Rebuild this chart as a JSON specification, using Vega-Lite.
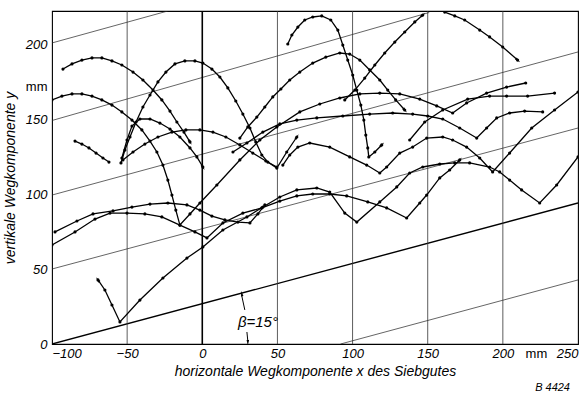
{
"$schema":"https://vega.github.io/schema/vega-lite/v6.json",
"width":526,"height":333,
"autosize":{"type":"none"},
"padding":{"left":52,"top":11,"right":4,"bottom":57},
"background":"white",
"title":{"text":"B 4424","orient":"bottom","anchor":"end","fontSize":11,"fontStyle":"italic","fontWeight":"normal","font":"Liberation Sans","offset":4,"dx":-8,"color":"black"},
"config":{"view":{"stroke":"black","strokeWidth":1.1},
"axis":{"labelFont":"Liberation Sans","labelFontStyle":"italic","labelFontSize":13,"labelColor":"black","titleFont":"Liberation Sans","titleFontStyle":"italic","titleFontWeight":"normal","titleFontSize":14,"titleColor":"black","ticks":false,"domain":false,"grid":false}},
"datasets":{
"slants":[
{"k":"s1","x":92,"y":0},{"k":"s1","x":250,"y":42.7},
{"k":"s2","x":-100,"y":50},{"k":"s2","x":250,"y":144},
{"k":"s3","x":-100,"y":99.3},{"k":"s3","x":250,"y":194.7},
{"k":"s4","x":-100,"y":149},{"k":"s4","x":151,"y":221},
{"k":"s5","x":-100,"y":200.7},{"k":"s5","x":-23,"y":222}],
"base":[{"x":-100,"y":0},{"x":250,"y":94}],
"grid":[{"x":-50},{"x":50},{"x":100},{"x":150},{"x":200}],
"grid0":[{"x":0}],
"dim":[{"k":"d1","x":26.3,"y":32},{"k":"d1","x":28.3,"y":22.7},{"k":"d2","x":29.7,"y":8},{"k":"d2","x":30.3,"y":2}],
"dimarrows":[{"x":26.3,"y":33.3,"heading":-10},{"x":30.3,"y":1.2,"heading":180}],
"label":[{"x":37,"y":15,"t":"β=15°"}],
"arrows":[
{"x":-8.2,"y":134.7,"heading":149},{"x":62.9,"y":138.0,"heading":34},{"x":119.4,"y":132.7,"heading":45},
{"x":134.7,"y":156.0,"heading":138},{"x":146.7,"y":219.3,"heading":49},{"x":209.8,"y":189.3,"heading":131},
{"x":-69.4,"y":42.7,"heading":-35},{"x":171.3,"y":122.7,"heading":40},{"x":0.4,"y":118.0,"heading":150}],
"traj":[
{"c":"A","i":1,"x":-92.7,"y":183.3},{"c":"A","i":2,"x":-86.7,"y":186.7},{"c":"A","i":3,"x":-80.1,"y":189.3},{"c":"A","i":4,"x":-73.4,"y":190.7},{"c":"A","i":5,"x":-66.8,"y":190.7},{"c":"A","i":6,"x":-60.1,"y":188.7},{"c":"A","i":7,"x":-53.5,"y":186.0},{"c":"A","i":8,"x":-46.1,"y":181.3},{"c":"A","i":9,"x":-39.5,"y":176.0},{"c":"A","i":10,"x":-32.8,"y":169.3},{"c":"A","i":11,"x":-26.9,"y":162.7},{"c":"A","i":12,"x":-21.5,"y":155.3},{"c":"A","i":13,"x":-16.9,"y":148.0},{"c":"A","i":14,"x":-12.2,"y":141.3},{"c":"A","i":15,"x":-8.2,"y":134.7},
{"c":"B","i":1,"x":-100,"y":162.7},{"c":"B","i":2,"x":-93.4,"y":165.3},{"c":"B","i":3,"x":-86.7,"y":166.7},{"c":"B","i":4,"x":-80.1,"y":166.7},{"c":"B","i":5,"x":-73.4,"y":165.3},{"c":"B","i":6,"x":-66.8,"y":162.7},{"c":"B","i":7,"x":-60.1,"y":159.3},{"c":"B","i":8,"x":-53.5,"y":154.7},{"c":"B","i":9,"x":-46.8,"y":149.3},{"c":"B","i":10,"x":-40.2,"y":142.7},{"c":"B","i":11,"x":-34.8,"y":135.3},{"c":"B","i":12,"x":-30.2,"y":128.0},{"c":"B","i":13,"x":-26.2,"y":119.3},{"c":"B","i":14,"x":-22.9,"y":109.3},{"c":"B","i":15,"x":-20.2,"y":99.3},{"c":"B","i":16,"x":-17.6,"y":89.3},{"c":"B","i":17,"x":-14.9,"y":79.3},{"c":"B","i":18,"x":-8.2,"y":86.7},{"c":"B","i":19,"x":-1.6,"y":94.0},{"c":"B","i":20,"x":9.7,"y":106.0},{"c":"B","i":21,"x":25.0,"y":122.7},{"c":"B","i":22,"x":38.3,"y":136.0},{"c":"B","i":23,"x":49.6,"y":144.7},{"c":"B","i":24,"x":64.9,"y":154.7},{"c":"B","i":25,"x":78.2,"y":160.0},{"c":"B","i":26,"x":91.5,"y":164.0},{"c":"B","i":27,"x":104.8,"y":166.7},{"c":"B","i":28,"x":118.1,"y":167.3},{"c":"B","i":29,"x":131.4,"y":166.7},{"c":"B","i":30,"x":144.7,"y":163.3},{"c":"B","i":31,"x":156.0,"y":158.7},{"c":"B","i":32,"x":166.6,"y":154.0},{"c":"B","i":33,"x":175.9,"y":160.7},{"c":"B","i":34,"x":189.2,"y":167.3},{"c":"B","i":35,"x":202.5,"y":171.3},{"c":"B","i":36,"x":215.2,"y":174.0},
{"c":"S","i":1,"x":-84.7,"y":135.3},{"c":"S","i":2,"x":-80.1,"y":133.3},{"c":"S","i":3,"x":-75.4,"y":130.7},{"c":"S","i":4,"x":-70.7,"y":127.3},{"c":"S","i":5,"x":-66.1,"y":124.0},{"c":"S","i":6,"x":-62.1,"y":121.3},
{"c":"C","i":1,"x":-54.1,"y":120.7},{"c":"C","i":2,"x":-51.5,"y":129.3},{"c":"C","i":3,"x":-48.1,"y":138.0},{"c":"C","i":4,"x":-44.1,"y":148.0},{"c":"C","i":5,"x":-39.5,"y":158.0},{"c":"C","i":6,"x":-34.8,"y":166.0},{"c":"C","i":7,"x":-29.5,"y":174.7},{"c":"C","i":8,"x":-24.2,"y":181.3},{"c":"C","i":9,"x":-18.2,"y":186.7},{"c":"C","i":10,"x":-11.6,"y":188.7},{"c":"C","i":11,"x":-4.9,"y":188.7},{"c":"C","i":12,"x":0.4,"y":187.3},{"c":"C","i":13,"x":6.4,"y":183.3},{"c":"C","i":14,"x":11.7,"y":178.0},{"c":"C","i":15,"x":17.0,"y":170.7},{"c":"C","i":16,"x":22.3,"y":162.0},{"c":"C","i":17,"x":27.0,"y":153.3},{"c":"C","i":18,"x":31.7,"y":144.0},{"c":"C","i":19,"x":35.6,"y":134.7},{"c":"C","i":20,"x":39.6,"y":126.0},{"c":"C","i":21,"x":43.6,"y":121.3},{"c":"C","i":22,"x":49.6,"y":117.3},{"c":"C","i":23,"x":56.2,"y":128.0},{"c":"C","i":24,"x":62.9,"y":138.0},
{"c":"E","i":1,"x":-53.5,"y":124.0},{"c":"E","i":2,"x":-50.1,"y":136.0},{"c":"E","i":3,"x":-46.8,"y":145.3},{"c":"E","i":4,"x":-41.5,"y":150.0},{"c":"E","i":5,"x":-34.8,"y":150.0},{"c":"E","i":6,"x":-28.2,"y":147.3},{"c":"E","i":7,"x":-21.5,"y":143.3},{"c":"E","i":8,"x":-14.9,"y":138.0},{"c":"E","i":9,"x":-8.2,"y":130.7},{"c":"E","i":10,"x":-3.6,"y":124.7},{"c":"E","i":11,"x":0.4,"y":118.0},
{"c":"F","i":1,"x":-52.8,"y":122.7},{"c":"F","i":2,"x":-46.1,"y":128.0},{"c":"F","i":3,"x":-38.2,"y":133.3},{"c":"F","i":4,"x":-29.5,"y":138.0},{"c":"F","i":5,"x":-20.2,"y":141.3},{"c":"F","i":6,"x":-10.9,"y":142.7},{"c":"F","i":7,"x":-1.6,"y":142.7},{"c":"F","i":8,"x":7.1,"y":141.3},{"c":"F","i":9,"x":15.7,"y":138.0},{"c":"F","i":10,"x":25.0,"y":132.7},{"c":"F","i":11,"x":33.6,"y":127.3},{"c":"F","i":12,"x":42.3,"y":122.0},{"c":"F","i":13,"x":49.6,"y":118.0},
{"c":"G","i":1,"x":56.9,"y":200.0},{"c":"G","i":2,"x":59.6,"y":206.0},{"c":"G","i":3,"x":63.6,"y":211.3},{"c":"G","i":4,"x":68.2,"y":216.0},{"c":"G","i":5,"x":73.5,"y":218.0},{"c":"G","i":6,"x":79.5,"y":218.7},{"c":"G","i":7,"x":85.5,"y":216.0},{"c":"G","i":8,"x":90.2,"y":209.3},{"c":"G","i":9,"x":93.5,"y":199.3},{"c":"G","i":10,"x":96.8,"y":189.3},{"c":"G","i":11,"x":100.1,"y":179.3},{"c":"G","i":12,"x":102.8,"y":169.3},{"c":"G","i":13,"x":105.5,"y":159.3},{"c":"G","i":14,"x":107.5,"y":149.3},{"c":"G","i":15,"x":108.8,"y":139.3},{"c":"G","i":16,"x":110.1,"y":130.7},{"c":"G","i":17,"x":110.8,"y":124.7},{"c":"G","i":18,"x":114.8,"y":128.0},{"c":"G","i":19,"x":119.4,"y":132.7},
{"c":"H","i":1,"x":25.0,"y":137.3},{"c":"H","i":2,"x":30.3,"y":144.7},{"c":"H","i":3,"x":36.3,"y":151.3},{"c":"H","i":4,"x":41.6,"y":158.0},{"c":"H","i":5,"x":46.9,"y":164.7},{"c":"H","i":6,"x":52.3,"y":170.0},{"c":"H","i":7,"x":58.2,"y":176.0},{"c":"H","i":8,"x":64.9,"y":181.3},{"c":"H","i":9,"x":73.5,"y":187.3},{"c":"H","i":10,"x":82.2,"y":191.3},{"c":"H","i":11,"x":91.5,"y":194.0},{"c":"H","i":12,"x":98.1,"y":193.3},{"c":"H","i":13,"x":104.8,"y":189.3},{"c":"H","i":14,"x":111.4,"y":182.7},{"c":"H","i":15,"x":118.1,"y":176.0},{"c":"H","i":16,"x":123.4,"y":169.3},{"c":"H","i":17,"x":128.7,"y":162.7},{"c":"H","i":18,"x":134.7,"y":156.0},
{"c":"I","i":1,"x":94.8,"y":162.7},{"c":"I","i":2,"x":101.5,"y":169.3},{"c":"I","i":3,"x":108.1,"y":177.3},{"c":"I","i":4,"x":114.8,"y":186.0},{"c":"I","i":5,"x":121.4,"y":194.0},{"c":"I","i":6,"x":128.1,"y":201.3},{"c":"I","i":7,"x":134.7,"y":208.0},{"c":"I","i":8,"x":141.4,"y":214.7},{"c":"I","i":9,"x":146.7,"y":219.3},
{"c":"J","i":1,"x":161.3,"y":221.3},{"c":"J","i":2,"x":168.0,"y":218.7},{"c":"J","i":3,"x":174.6,"y":216.0},{"c":"J","i":4,"x":184.6,"y":209.3},{"c":"J","i":5,"x":191.2,"y":204.7},{"c":"J","i":6,"x":199.9,"y":198.0},{"c":"J","i":7,"x":209.8,"y":189.3},
{"c":"K","i":1,"x":20.4,"y":128.0},{"c":"K","i":2,"x":29.7,"y":134.0},{"c":"K","i":3,"x":40.3,"y":141.3},{"c":"K","i":4,"x":51.6,"y":146.7},{"c":"K","i":5,"x":62.9,"y":149.3},{"c":"K","i":6,"x":76.2,"y":150.7},{"c":"K","i":7,"x":93.5,"y":152.0},{"c":"K","i":8,"x":111.4,"y":153.3},{"c":"K","i":9,"x":126.7,"y":154.0},{"c":"K","i":10,"x":140.0,"y":153.3},{"c":"K","i":11,"x":150.0,"y":152.0},{"c":"K","i":12,"x":160.0,"y":150.0},{"c":"K","i":13,"x":171.3,"y":144.0},{"c":"K","i":14,"x":182.6,"y":137.3},{"c":"K","i":15,"x":189.2,"y":144.0},{"c":"K","i":16,"x":195.9,"y":150.7},{"c":"K","i":17,"x":204.5,"y":154.0},{"c":"K","i":18,"x":214.5,"y":155.3},{"c":"K","i":19,"x":226.5,"y":154.7},
{"c":"K2","i":1,"x":138.0,"y":136.0},{"c":"K2","i":2,"x":148.0,"y":148.0},{"c":"K2","i":3,"x":160.0,"y":156.0},{"c":"K2","i":4,"x":176.6,"y":163.3},{"c":"K2","i":5,"x":191.2,"y":165.3},{"c":"K2","i":6,"x":202.5,"y":165.3},{"c":"K2","i":7,"x":216.5,"y":165.3},{"c":"K2","i":8,"x":234.4,"y":167.3},
{"c":"Q","i":1,"x":53.6,"y":119.3},{"c":"Q","i":2,"x":58.2,"y":126.0},{"c":"Q","i":3,"x":63.6,"y":131.3},{"c":"Q","i":4,"x":71.5,"y":134.0},{"c":"Q","i":5,"x":84.8,"y":131.3},{"c":"Q","i":6,"x":98.1,"y":124.7},{"c":"Q","i":7,"x":109.4,"y":119.3},{"c":"Q","i":8,"x":118.1,"y":114.0},{"c":"Q","i":9,"x":122.7,"y":118.0},{"c":"Q","i":10,"x":131.4,"y":127.3},{"c":"Q","i":11,"x":140.0,"y":131.3},{"c":"Q","i":12,"x":149.3,"y":137.3},{"c":"Q","i":13,"x":160.0,"y":138.0},{"c":"Q","i":14,"x":166.6,"y":136.0},{"c":"Q","i":15,"x":175.9,"y":131.3},{"c":"Q","i":16,"x":184.6,"y":124.0},{"c":"Q","i":17,"x":193.2,"y":114.7},{"c":"Q","i":18,"x":204.5,"y":127.3},{"c":"Q","i":19,"x":219.2,"y":144.0},{"c":"Q","i":20,"x":234.4,"y":156.0},{"c":"Q","i":21,"x":250,"y":168.0},
{"c":"M","i":1,"x":-69.4,"y":42.7},{"c":"M","i":2,"x":-64.8,"y":36.0},{"c":"M","i":3,"x":-60.1,"y":26.0},{"c":"M","i":4,"x":-54.8,"y":14.7},{"c":"M","i":5,"x":-41.5,"y":29.3},{"c":"M","i":6,"x":-26.2,"y":44.0},{"c":"M","i":7,"x":-10.2,"y":57.3},{"c":"M","i":8,"x":0.4,"y":64.7},{"c":"M","i":9,"x":13.7,"y":76.0},{"c":"M","i":10,"x":29.7,"y":84.7},{"c":"M","i":11,"x":40.3,"y":91.3},{"c":"M","i":12,"x":51.6,"y":98.0},{"c":"M","i":13,"x":62.9,"y":102.7},{"c":"M","i":14,"x":76.2,"y":104.0},{"c":"M","i":15,"x":84.8,"y":101.3},{"c":"M","i":16,"x":94.8,"y":87.3},{"c":"M","i":17,"x":102.8,"y":81.3},{"c":"M","i":18,"x":118.1,"y":94.7},{"c":"M","i":19,"x":129.4,"y":104.7},{"c":"M","i":20,"x":138.0,"y":114.0},{"c":"M","i":21,"x":146.7,"y":118.0},{"c":"M","i":22,"x":158.0,"y":120.0},{"c":"M","i":23,"x":168.0,"y":120.7},{"c":"M","i":24,"x":177.9,"y":120.7},{"c":"M","i":25,"x":191.2,"y":118.0},{"c":"M","i":26,"x":197.9,"y":114.7},{"c":"M","i":27,"x":204.5,"y":109.3},{"c":"M","i":28,"x":212.5,"y":102.7},{"c":"M","i":29,"x":224.5,"y":94.0},{"c":"M","i":30,"x":235.8,"y":106.0},{"c":"M","i":31,"x":250,"y":124.7},
{"c":"N1","i":1,"x":-98.0,"y":74.7},{"c":"N1","i":2,"x":-83.4,"y":82.0},{"c":"N1","i":3,"x":-72.7,"y":86.7},{"c":"N1","i":4,"x":-59.4,"y":88.7},{"c":"N1","i":5,"x":-46.8,"y":91.3},{"c":"N1","i":6,"x":-34.8,"y":93.3},{"c":"N1","i":7,"x":-22.9,"y":94.0},{"c":"N1","i":8,"x":-10.2,"y":92.7},{"c":"N1","i":9,"x":-1.6,"y":89.3},{"c":"N1","i":10,"x":6.4,"y":85.3},{"c":"N1","i":11,"x":15.0,"y":82.7},{"c":"N1","i":12,"x":23.7,"y":81.3},{"c":"N1","i":13,"x":31.7,"y":80.7},{"c":"N1","i":14,"x":37.0,"y":86.7},{"c":"N1","i":15,"x":41.6,"y":92.7},
{"c":"N2","i":1,"x":-100,"y":66.0},{"c":"N2","i":2,"x":-84.7,"y":74.7},{"c":"N2","i":3,"x":-71.4,"y":83.3},{"c":"N2","i":4,"x":-61.4,"y":87.3},{"c":"N2","i":5,"x":-50.1,"y":87.3},{"c":"N2","i":6,"x":-38.2,"y":86.7},{"c":"N2","i":7,"x":-26.9,"y":84.7},{"c":"N2","i":8,"x":-14.9,"y":79.3},{"c":"N2","i":9,"x":-4.9,"y":74.7},{"c":"N2","i":10,"x":3.1,"y":70.7},{"c":"N2","i":11,"x":13.7,"y":80.7},{"c":"N2","i":12,"x":27.0,"y":87.3},{"c":"N2","i":13,"x":39.6,"y":90.7},{"c":"N2","i":14,"x":51.6,"y":95.3},{"c":"N2","i":15,"x":62.9,"y":98.7},{"c":"N2","i":16,"x":73.5,"y":100.0},{"c":"N2","i":17,"x":84.8,"y":100.0},{"c":"N2","i":18,"x":96.1,"y":98.7},{"c":"N2","i":19,"x":110.1,"y":94.7},{"c":"N2","i":20,"x":122.7,"y":90.7},{"c":"N2","i":21,"x":136.0,"y":84.0},{"c":"N2","i":22,"x":144.7,"y":94.0},{"c":"N2","i":23,"x":149.3,"y":99.3},{"c":"N2","i":24,"x":158.0,"y":110.7},{"c":"N2","i":25,"x":164.6,"y":116.0},{"c":"N2","i":26,"x":171.3,"y":122.7}
]},
"encoding":{
"x":{"field":"x","type":"quantitative","scale":{"domain":[-100,250],"nice":false,"zero":false},
"axis":{"values":[-100,-50,0,50,100,150,200,222,250],"labelExpr":"datum.value==222?'mm':format(datum.value,'d')","labelFontStyle":{"condition":{"test":"datum.value==222","value":"normal"},"value":"italic"},"labelAlign":{"condition":[{"test":"datum.value==-100","value":"left"},{"test":"datum.value==250","value":"right"}],"value":"center"},"labelPadding":3,"title":"horizontale Wegkomponente x des Siebgutes","titlePadding":4,"labelFlush":false}},
"y":{"field":"y","type":"quantitative","scale":{"domain":[0,222],"nice":false,"zero":false},
"axis":{"values":[0,50,100,150,172,200],"labelExpr":"datum.value==172?'mm':format(datum.value,'d')","labelFontStyle":{"condition":{"test":"datum.value==172","value":"normal"},"value":"italic"},"labelPadding":5,"title":"vertikale Wegkomponente y","titlePadding":8,"labelFlush":false}}
},
"layer":[
{"data":{"name":"slants"},"mark":{"type":"line","clip":true,"color":"#222","strokeWidth":0.7},"encoding":{"detail":{"field":"k"}}},
{"data":{"name":"base"},"mark":{"type":"line","clip":true,"color":"black","strokeWidth":1.4},"encoding":{}},
{"data":{"name":"grid"},"mark":{"type":"rule","color":"#333","strokeWidth":0.8},"encoding":{"y":null}},
{"data":{"name":"grid0"},"mark":{"type":"rule","color":"black","strokeWidth":1.6},"encoding":{"y":null}},
{"data":{"name":"traj"},"mark":{"type":"line","clip":true,"color":"black","strokeWidth":1.3,"point":{"filled":true,"size":10,"color":"black"}},
"encoding":{"detail":{"field":"c"},"order":{"field":"i","type":"quantitative"}}},
{"data":{"name":"arrows"},"mark":{"type":"point","filled":true,"color":"black","opacity":1,"size":45,"shape":"M0,-1L0.4,0.7L-0.4,0.7Z"},"encoding":{"angle":{"field":"heading","type":"quantitative","scale":null}}},
{"data":{"name":"dim"},"mark":{"type":"line","color":"black","strokeWidth":1},"encoding":{"detail":{"field":"k"}}},
{"data":{"name":"dimarrows"},"mark":{"type":"point","filled":true,"color":"black","opacity":1,"size":40,"shape":"M0,-1L0.4,0.7L-0.4,0.7Z"},"encoding":{"angle":{"field":"heading","type":"quantitative","scale":null}}},
{"data":{"name":"label"},"mark":{"type":"text","fontSize":15,"fontStyle":"italic","font":"Liberation Sans","color":"black"},"encoding":{"text":{"field":"t"}}}
]
}
